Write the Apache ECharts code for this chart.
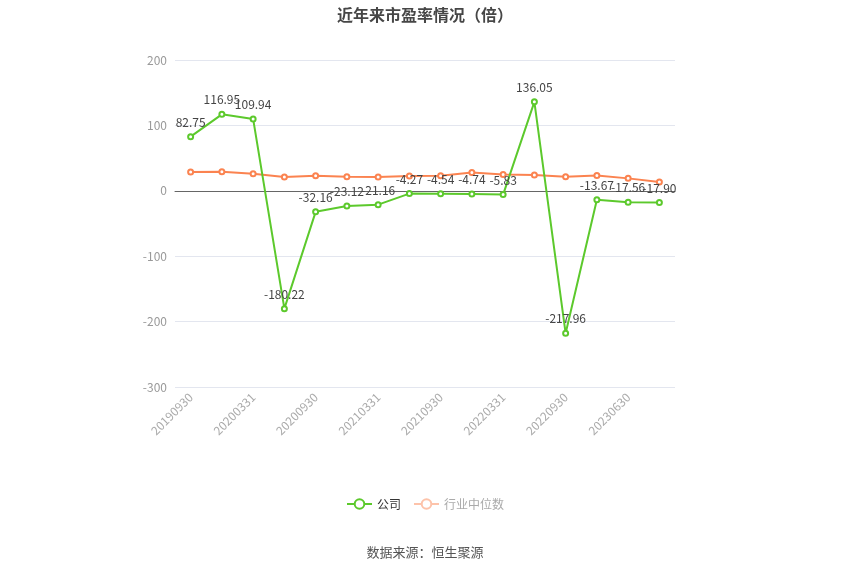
<!DOCTYPE html>
<html>
<head>
<meta charset="utf-8">
<script src="https://cdn.jsdelivr.net/npm/echarts@6/dist/echarts.min.js"></script>
<style>
  html, body { margin: 0; padding: 0; background: #fff; }
  #main { width: 850px; height: 575px; }
</style>
</head>
<body>
<div id="main"></div>
<script>
var dates = ['20190930', '20191231', '20200331', '20200630', '20200930', '20201231',
    '20210331', '20210630', '20210930', '20211231', '20220331', '20220630',
    '20220930', '20230331', '20230630', '20230930'];
var company = [82.75, 116.95, 109.94, -180.22, -32.16, -23.12, -21.16, -4.27,
    -4.54, -4.74, -5.83, 136.05, -217.96, -13.67, -17.56, -17.90];
var industry = [28.6, 29, 26, 21, 23, 21.4, 21, 22.6, 23, 28, 25, 24, 21.4, 23.5, 19, 13.3];

var myChart = echarts.init(document.getElementById('main'));
var fontFamily = '"Noto Sans CJK SC", "Microsoft YaHei", sans-serif';

option = {
    color: ['#5cc92c', '#fb8350'],
    textStyle: { fontFamily: fontFamily },
    title: {
        text: '近年来市盈率情况（倍）',
        left: 'center',
        top: 2,
        textStyle: { fontSize: 16, fontWeight: 'bold', color: '#464646', fontFamily: fontFamily }
    },
    legend: {
        data: [
            { name: '公司' },
            {
                name: '行业中位数',
                itemStyle: { color: '#fdc3aa', borderColor: '#fdc3aa' },
                lineStyle: { color: '#fdc3aa' },
                textStyle: { color: '#aaa' }
            }
        ],
        bottom: 60,
        left: 'center',
        itemWidth: 25,
        itemHeight: 12,
        itemGap: 12,
        textStyle: { color: '#333', fontSize: 12 },
        selectedMode: false
    },
    graphic: [{
        type: 'text',
        left: 'center',
        top: 546,
        style: { text: '数据来源：恒生聚源', fill: '#555', fontSize: 13, fontFamily: fontFamily }
    }],
    grid: { left: 175, right: 175, top: 60, bottom: 188 },
    xAxis: {
        type: 'category',
        data: dates,
        boundaryGap: true,
        axisLine: { lineStyle: { color: '#666' } },
        axisTick: { alignWithLabel: true, interval: 1, lineStyle: { color: '#999' } },
        axisLabel: { interval: 1, rotate: 45, color: '#aaa', fontSize: 12 }
    },
    yAxis: {
        type: 'value',
        min: -300,
        max: 200,
        interval: 100,
        axisLine: { show: false },
        axisTick: { show: false },
        axisLabel: { color: '#999', fontSize: 12 },
        splitLine: { lineStyle: { color: '#e3e6ef' } }
    },
    series: [
        {
            name: '公司',
            type: 'line',
            data: company,
            symbol: 'emptyCircle',
            symbolSize: 5,
            lineStyle: { width: 2 },
            label: {
                show: true,
                position: 'top',
                color: '#444',
                fontSize: 12,
                formatter: function (p) { return p.value.toFixed(2); }
            },
            z: 3
        },
        {
            name: '行业中位数',
            type: 'line',
            data: industry,
            symbol: 'emptyCircle',
            symbolSize: 5,
            lineStyle: { width: 2 },
            z: 2
        }
    ]
};
myChart.setOption(option);
</script>
</body>
</html>
